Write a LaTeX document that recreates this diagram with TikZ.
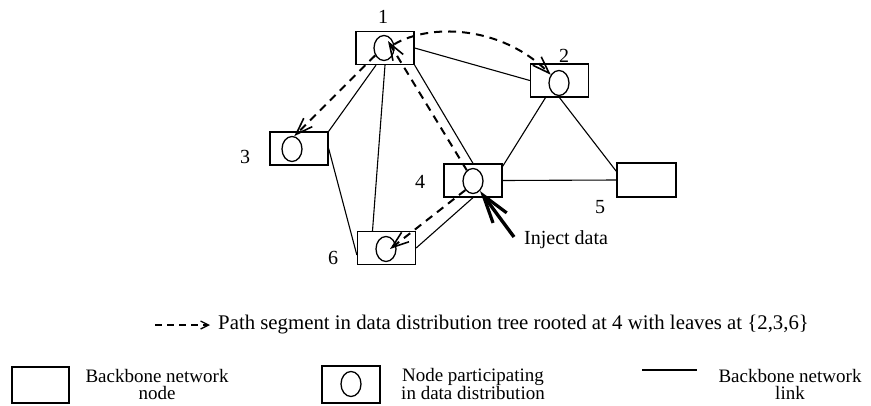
\documentclass[tikz,border=0pt]{standalone}
\usepackage{fontspec}
\setmainfont{Liberation Serif}
\usetikzlibrary{arrows.meta,calc,shapes.geometric}

\begin{document}
\begin{tikzpicture}[x=1pt,y=-1pt,
  box/.style={draw, line width=1.3pt, minimum width=58pt, minimum height=33pt, inner sep=0pt},
  disc/.style={draw, ellipse, line width=1.3pt, minimum width=20pt, minimum height=25pt, inner sep=0pt},
  link/.style={line width=1.1pt},
  tree/.style={line width=2pt, dash pattern=on 8pt off 6pt,
    -{Straight Barb[length=17pt,width=12pt,line width=1.6pt]}},
  treekey/.style={line width=1.6pt, dash pattern=on 7pt off 5pt,
    -{Straight Barb[length=8pt,width=8pt,line width=1.3pt]}},
  inject/.style={line width=3.4pt,
    -{Straight Barb[length=28pt,width=17pt,line width=3.2pt]}},
  lbl/.style={font=\fontsize{20}{15}\selectfont, inner sep=0pt},
  keytext/.style={font=\fontsize{19}{17}\selectfont, inner sep=0pt, align=center}
]
\useasboundingbox (0,0) rectangle (871,405);

% backbone nodes
\node[box] (n1) at (385,48) {};
\node[box] (n2) at (559.5,80.5) {};
\node[box] (n3) at (299,148.5) {};
\node[box] (n4) at (473,180.5) {};
\node[box, minimum width=59pt, minimum height=34pt] (n5) at (646.5,180) {};
\node[box] (n6) at (386.5,248) {};

% nodes taking part in the distribution
\node[disc] (c1) at (384,48) {};
\node[disc] (c2) at (559,83) {};
\node[disc] (c3) at (292,149) {};
\node[disc] (c4) at (473,181) {};
\node[disc] (c6) at (386,249) {};

% node numbers
\node[lbl] (l1) at (383,17) {1};
\node[lbl] (l2) at (564,56) {2};
\node[lbl] (l3) at (245,157) {3};
\node[lbl] (l4) at (420,182) {4};
\node[lbl] (l5) at (600,207) {5};
\node[lbl] (l6) at (333,258) {6};

% backbone links
\draw[link] (n1.east) -- (n2.west);
\draw[link] ($(n1.south)+(-9,0)$) -- (n3.north east);
\draw[link] (n1.south) -- ($(n6.north)+(-14,0)$);
\draw[link] (n1.south east) -- (n4.north);
\draw[link] ($(n2.south)+(-14,0)$) -- ($(n4.north east)+(0,3)$);
\draw[link] (n2.south) -- ($(n5.north west)+(0,9)$);
\draw[link] (n4.east) -- (n5.west);
\draw[link] (n3.east) -- ($(n6.west)+(0,7)$);
\draw[link] (n4.south) -- (n6.east);

% distribution tree rooted at 4
\draw[tree] (c4.120) -- ($(c1)+(4,-7)$);
\draw[tree] (c1.20) .. controls (428,24) and (500,24) .. (c2.135);
\draw[tree] (c1.220) -- (c3.80);
\draw[tree] (c4.230) -- ($(c6)+(4,0)$);

% data injection at 4
\coordinate (inj) at (514,237);
\draw[inject] (inj) -- (c4.-55);
\node[lbl, anchor=west] (injt) at (524,240) {Inject data};

% key
\coordinate (ka) at (155,325);
\coordinate (kb) at (210,325);
\draw[treekey] (ka) -- (kb);
\node[lbl, anchor=west, font=\fontsize{20.8}{15}\selectfont] (kt) at (218,325) {Path segment in data distribution tree rooted at 4 with leaves at \{2,3,6\}};

\node[box, minimum width=57pt, minimum height=36pt] (k1) at (40.5,385) {};
\node[keytext] (k1t) at (157,384) {Backbone network\\node};

\node[box, minimum width=58pt, minimum height=37pt] (k2) at (351,384.5) {};
\node[disc] (k2c) at (351,384) {};
\node[keytext] (k2t) at (473,384) {Node participating\\in data distribution};

\coordinate (kl1) at (642,370);
\coordinate (kl2) at (697,370);
\draw[link] (kl1) -- (kl2);
\node[keytext] (k3t) at (790,384) {Backbone network\\link};
\end{tikzpicture}
\end{document}
